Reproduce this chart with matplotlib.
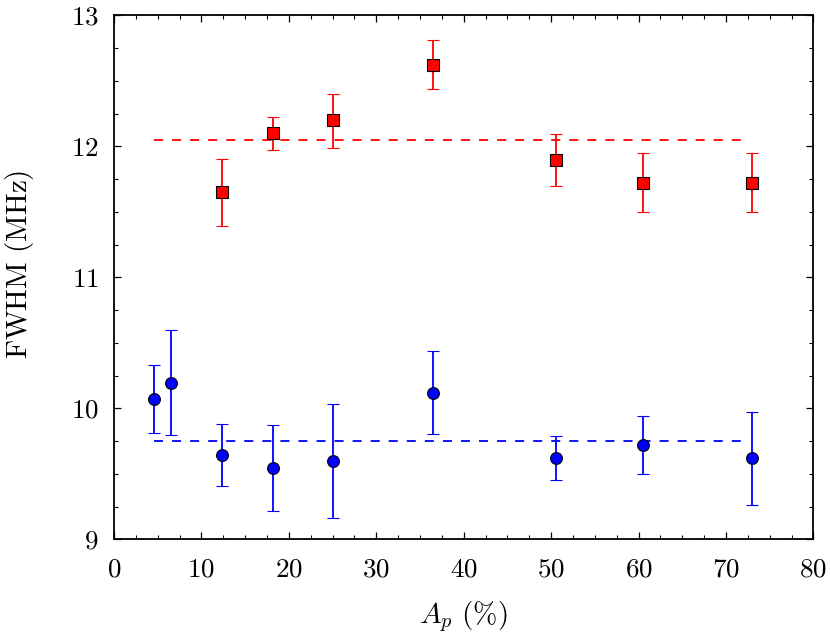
import matplotlib
matplotlib.use("Agg")
import matplotlib.pyplot as plt
from matplotlib.ticker import MultipleLocator, FuncFormatter

plt.rcParams['mathtext.fontset'] = 'cm'
plt.rcParams['font.family'] = 'serif'
plt.rcParams['font.serif'] = ['cmr10', 'DejaVu Serif']
plt.rcParams['axes.formatter.use_mathtext'] = True

# Data
red_x = [12.36, 18.19, 25.02, 36.54, 50.53, 60.5, 73.0]
red_y = [11.65, 12.10, 12.20, 12.62, 11.895, 11.72, 11.72]
red_lo = [11.39, 11.97, 11.99, 12.435, 11.70, 11.50, 11.50]
red_hi = [11.90, 12.225, 12.40, 12.81, 12.09, 11.95, 11.95]
red_mean = 12.046

blue_x = [4.61, 6.48, 12.36, 18.19, 25.02, 36.54, 50.53, 60.5, 73.0]
blue_y = [10.07, 10.195, 9.646, 9.544, 9.595, 10.12, 9.618, 9.72, 9.618]
blue_lo = [9.814, 9.794, 9.41, 9.218, 9.163, 9.80, 9.45, 9.50, 9.264]
blue_hi = [10.33, 10.598, 9.88, 9.873, 10.03, 10.44, 9.79, 9.944, 9.975]
blue_mean = 9.753

line_x = [4.6, 72.4]

fig = plt.figure(figsize=(8.30, 6.34), dpi=100)
ax = fig.add_axes([0.1373, 0.1494, 0.980 - 0.1373, 0.9759 - 0.1494])

ax.plot(line_x, [red_mean, red_mean], color='#ff0000', lw=1.3, dashes=(5, 5))
ax.plot(line_x, [blue_mean, blue_mean], color='#0000ff', lw=1.3, dashes=(5, 5))

red_err = [[y - l for y, l in zip(red_y, red_lo)], [h - y for y, h in zip(red_y, red_hi)]]
blue_err = [[y - l for y, l in zip(blue_y, blue_lo)], [h - y for y, h in zip(blue_y, blue_hi)]]

ax.errorbar(red_x, red_y, yerr=red_err, fmt='s', color='#ff0000', ecolor='#ff0000',
            mfc='#ff0000', mec='black', mew=0.8, ms=8.5, elinewidth=1.3, capsize=4,
            capthick=1.3, zorder=3)
ax.errorbar(blue_x, blue_y, yerr=blue_err, fmt='o', color='#0000ff', ecolor='#0000ff',
            mfc='#0000ff', mec='black', mew=0.8, ms=8.5, elinewidth=1.3, capsize=4,
            capthick=1.3, zorder=3)

ax.set_xlim(0, 80)
ax.set_ylim(9, 13)
ax.xaxis.set_major_locator(MultipleLocator(10))
ax.xaxis.set_minor_locator(MultipleLocator(2.5))
ax.yaxis.set_major_locator(MultipleLocator(1))
ax.yaxis.set_minor_locator(MultipleLocator(0.25))
fmt = FuncFormatter(lambda v, p: r'$%d$' % round(v))
ax.xaxis.set_major_formatter(fmt)
ax.yaxis.set_major_formatter(fmt)

ax.tick_params(which='both', direction='in', top=True, right=True, labelsize=19.5)
ax.tick_params(which='major', length=5, width=0.9)
ax.tick_params(axis='x', which='major', pad=13)
ax.tick_params(axis='y', which='major', pad=11)
ax.tick_params(which='minor', length=3, width=0.8)
for s in ax.spines.values():
    s.set_linewidth(1.3)

ax.set_xlabel(r'$A_p\ (\%)$', fontsize=21, labelpad=13)
ax.set_ylabel(r'$\mathrm{FWHM\ (MHz)}$', fontsize=21)
ax.yaxis.set_label_coords(-0.111, 0.525)

fig.savefig('out.png', dpi=100)
